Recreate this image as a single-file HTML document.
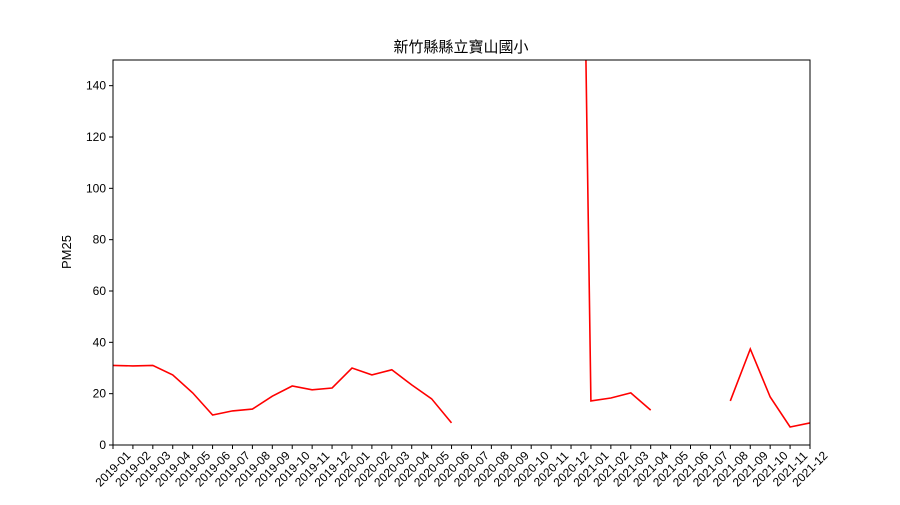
<!DOCTYPE html>
<html><head><meta charset="utf-8"><style>
body{margin:0;background:#fff}
svg text{font-family:"Liberation Sans","Noto Sans CJK TC",sans-serif;fill:#000}
</style></head><body>
<svg id="c" width="900" height="500" xmlns="http://www.w3.org/2000/svg">
<rect width="900" height="500" fill="#fff"/>
<text x="461" y="52" font-size="15" text-anchor="middle">新竹縣縣立寶山國小</text>
<text transform="translate(71,252) rotate(-90)" font-size="13" text-anchor="middle">PM25</text>
<g id="plot"></g>
<rect x="113" y="60" width="697" height="385" fill="none" stroke="#000" stroke-width="1"/>
</svg>
<script>
const categories=["2019-01","2019-02","2019-03","2019-04","2019-05","2019-06","2019-07","2019-08","2019-09","2019-10","2019-11","2019-12","2020-01","2020-02","2020-03","2020-04","2020-05","2020-06","2020-07","2020-08","2020-09","2020-10","2020-11","2020-12","2021-01","2021-02","2021-03","2021-04","2021-05","2021-06","2021-07","2021-08","2021-09","2021-10","2021-11","2021-12"];
const pm25=[31,30.8,31,27.3,20.3,11.7,13.3,14,19,23,21.5,22.2,30,27.3,29.3,23.4,18,8.6,null,null,null,null,null,550,17.2,18.3,20.3,13.6,null,null,null,17.2,37.4,18.7,7,8.6];
const yTicks=[0,20,40,60,80,100,120,140];
const NS="http://www.w3.org/2000/svg";
const L=113,R=810,T=60,B=445,YMAX=150;
const xs=i=>L+i*(R-L)/(categories.length-1);
const ys=v=>B-v*(B-T)/YMAX;
const g=document.getElementById('plot');
function mk(t,a){const e=document.createElementNS(NS,t);for(const k in a)e.setAttribute(k,a[k]);g.appendChild(e);return e;}
const cp=document.createElementNS(NS,'clipPath');cp.setAttribute('id','clip');
const cr=document.createElementNS(NS,'rect');cr.setAttribute('x',L);cr.setAttribute('y',T);cr.setAttribute('width',R-L);cr.setAttribute('height',B-T);cp.appendChild(cr);g.appendChild(cp);
yTicks.forEach(v=>{
  const y=ys(v);
  const tk=mk('line',{x1:L-4,x2:L,y1:y,y2:y,stroke:'#000'});
  
  
  const t=mk('text',{x:L-7,y:y+4,'font-size':'12','text-anchor':'end'});t.textContent=v;
  
  
});
categories.forEach((c,i)=>{
  const x=xs(i);
  const tk=mk('line',{x1:x,x2:x,y1:B,y2:B+4,stroke:'#000'});
  
  
  const t=mk('text',{transform:`translate(${x},${B+24}) rotate(-45)`,'font-size':'12','text-anchor':'middle',dy:'4'});t.textContent=c;
  
  
});
let segs=[],cur=[];
pm25.forEach((v,i)=>{if(v==null){if(cur.length)segs.push(cur);cur=[];}else cur.push(xs(i).toFixed(1)+','+ys(v).toFixed(1));});
if(cur.length)segs.push(cur);
segs.forEach(s=>{
  const p=mk('polyline',{points:s.join(' '),fill:'none',stroke:'#ff0000','stroke-width':'1.6','clip-path':'url(#clip)'});
  
  
});
</script>
</body></html>
